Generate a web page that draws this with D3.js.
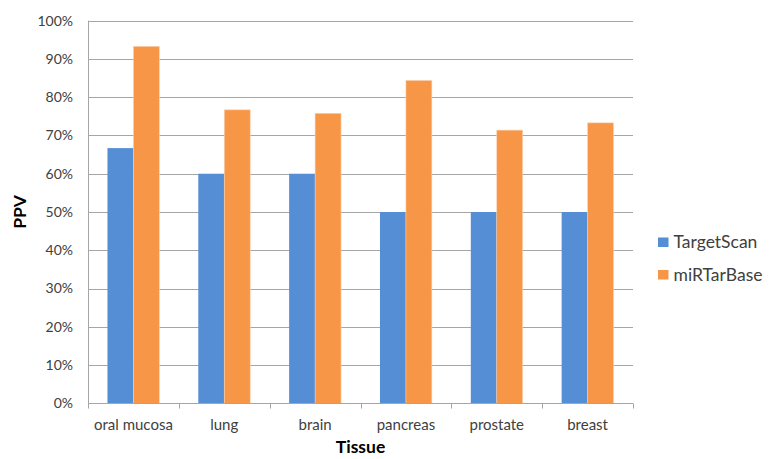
<!DOCTYPE html>
<html>
<head>
<meta charset="utf-8">
<script src="https://cdn.jsdelivr.net/npm/d3@7"></script>
<style>
  body { margin: 0; background: #fff; }
  svg { display: block; font-family: Lato, "Open Sans", sans-serif; }
</style>
</head>
<body>
<svg id="chart" width="769" height="459"></svg>
<script>
// Positive predictive value per tissue
const tissues = ["oral mucosa", "lung", "brain", "pancreas", "prostate", "breast"];
const seriesNames = ["TargetScan", "miRTarBase"];
const targetScan = [0.667, 0.600, 0.600, 0.500, 0.500, 0.500];
const miRTarBase = [0.933, 0.767, 0.758, 0.844, 0.714, 0.733];
const yTicks = [0, 0.1, 0.2, 0.3, 0.4, 0.5, 0.6, 0.7, 0.8, 0.9, 1.0];
const colors = ["#558ed5", "#f79646"];

const seriesValues = [targetScan, miRTarBase];
const margin = { left: 88, right: 136, top: 20.7, bottom: 55.7 };
const W = 769, H = 459;
const svg = d3.select("#chart");

const x = d3.scaleBand().domain(tissues).range([margin.left, W - margin.right]).paddingInner(0).paddingOuter(0);
const inner = d3.scaleBand().domain(seriesNames).range([0, x.bandwidth()]).paddingInner(0).paddingOuter(0.75);
const y = d3.scaleLinear().domain([0, 1]).range([H - margin.bottom, margin.top]);

// horizontal gridlines
svg.append("g").selectAll("line").data(yTicks.slice(1)).join("line")
  .attr("x1", margin.left).attr("x2", W - margin.right)
  .attr("y1", d => Math.round(y(d)) + 0.5).attr("y2", d => Math.round(y(d)) + 0.5)
  .attr("stroke", "#a6a6a6").attr("stroke-width", 1);

// y axis labels
svg.append("g").selectAll("text").data(yTicks).join("text")
  .attr("x", 73).attr("y", d => y(d)).attr("dy", "0.35em")
  .attr("text-anchor", "end").attr("font-size", 14).attr("fill", "#404040")
  .text(d => d3.format(".0%")(d));

// bars
const groups = svg.append("g").selectAll("g").data(tissues).join("g")
  .attr("transform", d => `translate(${x(d)},0)`);
groups.selectAll("rect").data((d, i) => seriesNames.map((s, j) => ({ s, j, v: seriesValues[j][i] })))
  .join("rect")
  .attr("x", d => inner(d.s))
  .attr("width", inner.bandwidth())
  .attr("y", d => y(d.v))
  .attr("height", d => y(0) - y(d.v))
  .attr("fill", d => colors[d.j])
  .attr("stroke", d => d.j === 1 ? "#fbd3b3" : "none")
  .attr("stroke-width", 0.6);

// y axis line
svg.append("line")
  .attr("x1", margin.left + 0.5).attr("x2", margin.left + 0.5)
  .attr("y1", margin.top).attr("y2", y(0))
  .attr("stroke", "#a6a6a6");

// x axis with category ticks
const xg = svg.append("g").attr("transform", `translate(0,${Math.round(y(0)) + 0.5})`);
xg.append("line").attr("x1", margin.left).attr("x2", W - margin.right).attr("stroke", "#a6a6a6");
xg.selectAll("line.tick").data(tissues.map(t => x(t)).concat([W - margin.right])).join("line")
  .attr("class", "tick")
  .attr("x1", d => Math.round(d) + 0.5).attr("x2", d => Math.round(d) + 0.5)
  .attr("y1", 0).attr("y2", 5).attr("stroke", "#a6a6a6");
xg.selectAll("text").data(tissues).join("text")
  .attr("x", d => x(d) + x.bandwidth() / 2).attr("y", 26)
  .attr("text-anchor", "middle").attr("font-size", 15).attr("fill", "#404040")
  .text(d => d);

// axis titles
svg.append("text").attr("x", x.range()[0] + (x.range()[1] - x.range()[0]) / 2).attr("y", 453)
  .attr("text-anchor", "middle").attr("font-size", 17.5).attr("font-weight", "bold").attr("fill", "#000")
  .text("Tissue");
svg.append("text").attr("transform", `translate(26,${(margin.top + y(0)) / 2}) rotate(-90)`)
  .attr("text-anchor", "middle").attr("font-size", 17.5).attr("font-weight", "bold").attr("fill", "#000")
  .text("PPV");

// legend
const legend = svg.append("g").selectAll("g").data(seriesNames).join("g")
  .attr("transform", (d, i) => `translate(658,${237.5 + i * 32.5})`);
legend.append("rect").attr("width", 10.5).attr("height", 9.5).attr("fill", (d, i) => colors[i]);
legend.append("text").attr("x", 15.5).attr("y", 4.8).attr("dy", "0.35em")
  .attr("font-size", 17.5).attr("fill", "#404040").text(d => d);
</script>
</body>
</html>
